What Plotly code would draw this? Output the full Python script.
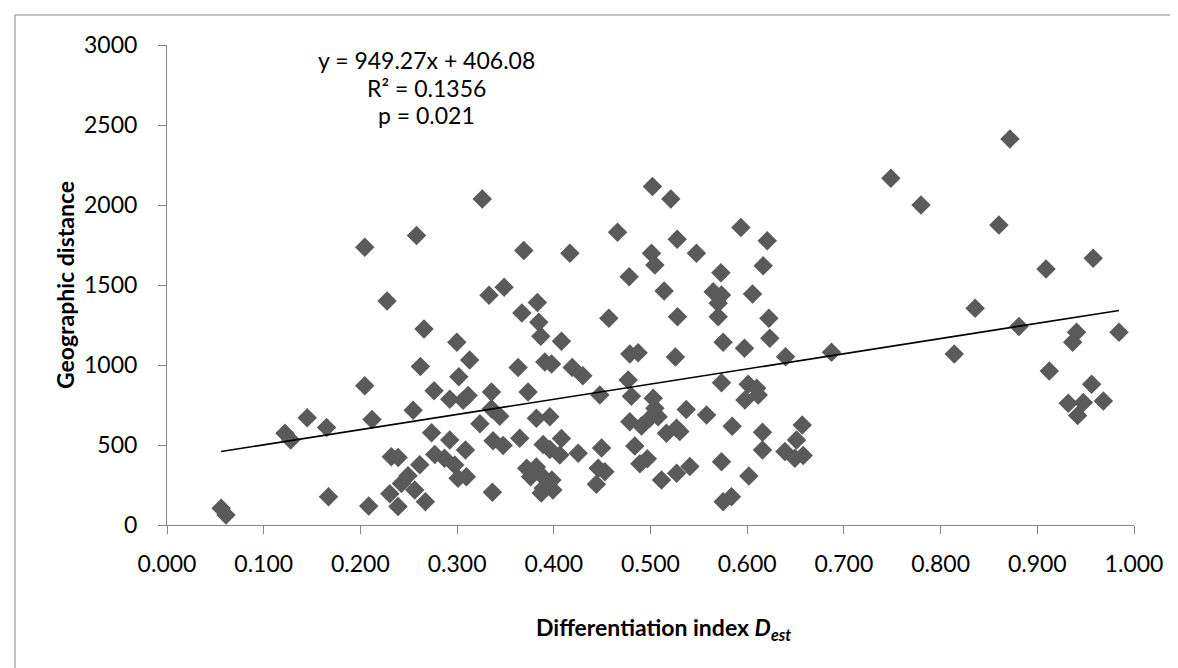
import plotly.graph_objects as go

# Differentiation index D_est (x) and geographic distance (y)
d_est = [
    0.056, 0.061, 0.122, 0.128, 0.145, 0.165, 0.167,
    0.2045, 0.2045, 0.212, 0.2086, 0.2276, 0.232, 0.239, 0.2304, 0.2389, 0.2424,
    0.2493, 0.2545, 0.2562, 0.258, 0.262, 0.2614, 0.2658, 0.2672, 0.2736, 0.2762,
    0.2769, 0.287, 0.2924, 0.2924, 0.2976, 0.2997, 0.3018, 0.301, 0.3086, 0.3062,
    0.3096, 0.3114, 0.313, 0.3236, 0.326, 0.333, 0.3355, 0.3355, 0.3365, 0.3372,
    0.3441, 0.3476, 0.3486, 0.3631, 0.3648, 0.367, 0.369, 0.3734, 0.372, 0.382,
    0.376, 0.387, 0.398, 0.389, 0.399, 0.387, 0.382, 0.383, 0.3845, 0.3866,
    0.3907, 0.3976, 0.3959, 0.389, 0.396,
    0.4079, 0.4166, 0.419, 0.430, 0.4079, 0.4062, 0.4252, 0.4476, 0.4494, 0.4459,
    0.4528, 0.444, 0.4569, 0.4659, 0.4779, 0.4786, 0.4872, 0.4769, 0.4803, 0.4786,
    0.4907, 0.4993, 0.5079, 0.5045, 0.5028, 0.4838, 0.489, 0.4967, 0.5165, 0.5269,
    0.5303, 0.5114, 0.527, 0.5407, 0.5734, 0.5751, 0.5837, 0.5258, 0.5751, 0.5734,
    0.537, 0.558, 0.5845, 0.502, 0.521, 0.5276, 0.5475, 0.501, 0.5045, 0.5728,
    0.5141, 0.5648, 0.5734, 0.570, 0.570, 0.5279,
    0.8717, 0.7486, 0.7797, 0.8603, 0.5935, 0.6207, 0.9578, 0.909, 0.6165, 0.6055,
    0.6224, 0.8357, 0.6234, 0.5972, 0.6397, 0.6872, 0.8141, 0.881, 0.9406, 0.9365,
    0.9845, 0.9124, 0.9562, 0.932, 0.9476, 0.9683, 0.9417, 0.601, 0.6098, 0.5976,
    0.6114, 0.6158, 0.6158, 0.6569, 0.651, 0.639, 0.6493, 0.6579, 0.6017,
]
geo_dist = [
    104, 62, 573, 531, 671, 609, 177,
    1736, 871, 660, 118, 1400, 427, 422, 195, 115, 260,
    308, 717, 219, 1809, 991, 377, 1225, 146, 577, 839,
    440, 417, 786, 531, 375, 1142, 927, 292, 469, 779,
    302, 810, 1031, 633, 2037, 1436, 831, 727, 204, 526,
    680, 497, 1486, 984, 542, 1325, 1715, 831, 354, 362,
    302, 312, 281, 229, 219, 200, 667, 1390, 1267, 1180,
    1019, 1006, 677, 503, 472,
    1148, 1698, 985, 933, 540, 438, 448, 813, 482, 354,
    333, 255, 1292, 1829, 1552, 1068, 1076, 906, 804, 646,
    618, 667, 677, 729, 792, 493, 383, 414, 573, 604,
    584, 281, 323, 365, 396, 146, 177, 1050, 1142, 889,
    722, 688, 617, 2115, 2037, 1786, 1698, 1698, 1625, 1577,
    1462, 1458, 1437, 1386, 1302, 1302,
    2413, 2167, 2000, 1875, 1859, 1777, 1667, 1600, 1621, 1444,
    1292, 1354, 1167, 1104, 1052, 1079, 1069, 1240, 1204, 1142,
    1204, 963, 879, 761, 765, 775, 684, 880, 855, 781,
    813, 579, 469, 625, 531, 459, 417, 434, 306,
]

# Trendline coefficients shown on the chart
slope = 949.27
intercept = 406.08
equation_lines = ["y = 949.27x + 406.08", "R² = 0.1356", "p = 0.021"]

x_ticks = [0.0, 0.1, 0.2, 0.3, 0.4, 0.5, 0.6, 0.7, 0.8, 0.9, 1.0]
y_ticks = [0, 500, 1000, 1500, 2000, 2500, 3000]

FONT = "Lato, 'Open Sans', sans-serif"
AXIS_GRAY = "#868686"

fig = go.Figure()
fig.add_trace(go.Scatter(
    x=d_est, y=geo_dist, mode="markers",
    marker=dict(symbol="diamond", size=15, color="#5a5a5a", line=dict(width=0)),
    showlegend=False, hoverinfo="x+y",
))
x_min, x_max = min(d_est), max(d_est)
fig.add_trace(go.Scatter(
    x=[x_min, x_max], y=[slope * x_min + intercept, slope * x_max + intercept],
    mode="lines", line=dict(color="black", width=1.6), showlegend=False,
    hoverinfo="skip",
))

W, H = 1178, 668
L, R, T, B = 159, 52, 37, 151
pw, ph = W - L - R, H - T - B


def px(xp):
    return (xp - L) / pw


def py(yp):
    return (H - B - yp) / ph


annotations = [
    dict(text="<b>Differentiation index <i>D</i><sub><i>est</i></sub></b>",
         x=px(655), y=py(620), xref="paper", yref="paper", showarrow=False,
         xanchor="center", yanchor="middle", font=dict(family=FONT, size=23, color="black")),
    dict(text="<b>Geographic distance</b>", textangle=-90,
         x=px(57), y=0.5, xref="paper", yref="paper", showarrow=False,
         xanchor="center", yanchor="middle", font=dict(family=FONT, size=23, color="black")),
]
for line_text, ypix in zip(equation_lines, [52, 80, 107]):
    annotations.append(dict(
        text=line_text, x=px(418), y=py(ypix), xref="paper", yref="paper",
        showarrow=False, xanchor="center", yanchor="middle",
        font=dict(family=FONT, size=23, color="black")))

fig.update_layout(
    width=W, height=H,
    margin=dict(l=L, r=R, t=T, b=B),
    paper_bgcolor="white", plot_bgcolor="white",
    font=dict(family=FONT, size=23, color="black"),
    annotations=annotations,
    shapes=[dict(type="rect", xref="paper", yref="paper",
                 x0=px(7), x1=px(1171), y0=py(675), y1=py(7),
                 line=dict(color=AXIS_GRAY, width=1), fillcolor="rgba(0,0,0,0)",
                 layer="below")],
    xaxis=dict(range=[0, 1], tickvals=x_ticks, tickformat=".3f",
               showline=True, linecolor=AXIS_GRAY, linewidth=1,
               ticks="outside", ticklen=8, tickcolor=AXIS_GRAY, tickwidth=1,
               showgrid=False, zeroline=False, ticklabelstandoff=10,
               tickfont=dict(family=FONT, size=23, color="black")),
    yaxis=dict(range=[0, 3000], tickvals=y_ticks,
               showline=True, linecolor=AXIS_GRAY, linewidth=1,
               ticks="outside", ticklen=8, tickcolor=AXIS_GRAY, tickwidth=1,
               showgrid=False, zeroline=False, ticklabelstandoff=16,
               tickfont=dict(family=FONT, size=23, color="black")),
)

fig.write_html("out.html")
